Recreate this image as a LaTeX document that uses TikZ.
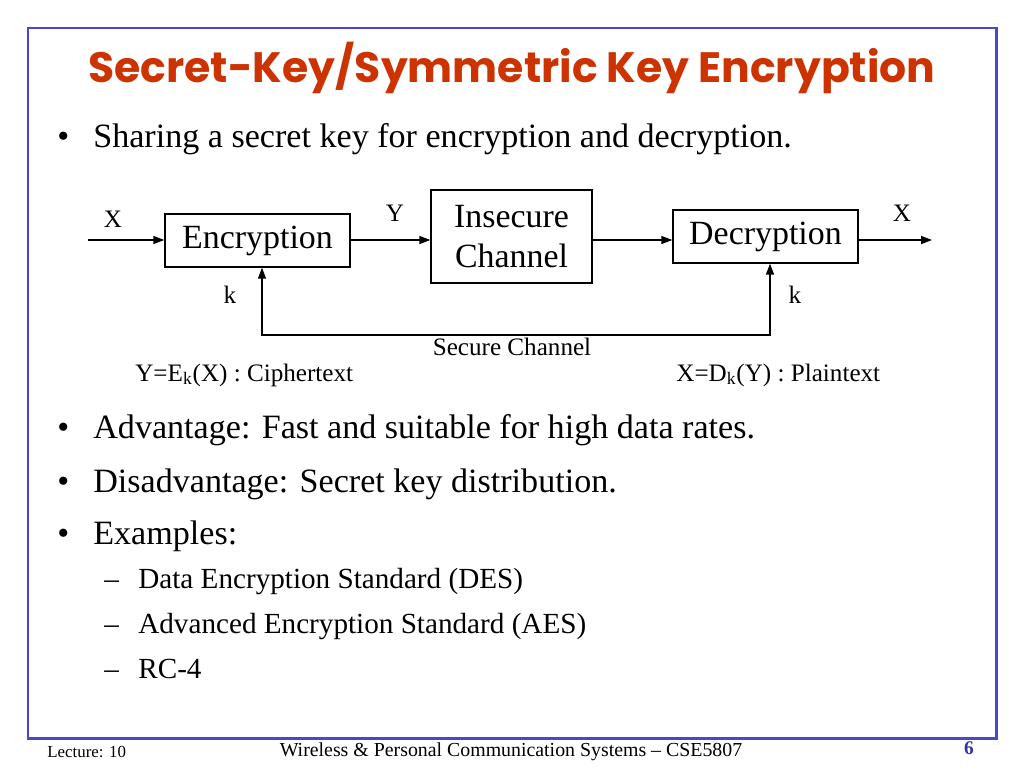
\documentclass[tikz,border=0pt]{standalone}
\usepackage{fontspec}
\setmainfont{Liberation Serif}
\newfontfamily\titlefont{Poppins}
\usepackage{tikz}
\usetikzlibrary{arrows.meta,positioning,calc}
\definecolor{slidered}{RGB}{204,51,0}
\definecolor{slideblue}{RGB}{72,72,200}
\definecolor{pagenum}{RGB}{51,51,153}
\newcommand{\fsz}[2]{\fontsize{#1}{#2}\selectfont}
\tikzset{
  frame/.style={draw=slideblue, line width=1.7pt},
  ttl/.style={font=\titlefont\bfseries\fsz{24.2}{29}, text=slidered},
  body/.style={anchor=base west, inner sep=0pt, font=\fsz{19.4}{24}},
  sub/.style={anchor=base west, inner sep=0pt, font=\fsz{16.6}{20}},
  blk/.style={draw, line width=0.75pt, inner sep=0pt, align=center, font=\fsz{19.3}{23}},
  lbl/.style={inner sep=0pt, font=\fsz{14.3}{17}},
  eqn/.style={anchor=base west, inner sep=0pt, font=\fsz{14.3}{17}},
  sig/.style={-{Triangle[length=2.2mm, width=1.6mm]}, line width=0.75pt},
  foot/.style={anchor=base, inner sep=0pt},
}

\begin{document}
\begin{tikzpicture}[x=0.02cm, y=-0.02cm]
  \useasboundingbox (0,0) rectangle (1024,768);
  \draw[frame] (28,28) rectangle (996,738);
  \node[ttl] (title) at (512,68) {Secret-Key/Symmetric Key Encryption};

  % first bullet
  \node[body] (b1) at (57,147) {\textbullet};
  \node[body] (t1) at (93,147) {Sharing a secret key for encryption and decryption.};

  % the diagram
  \node[blk, minimum width=3.7cm, minimum height=1.06cm] (enc) at (257.5,240.5) {Encryption};
  \node[blk, minimum width=3.22cm, minimum height=1.86cm] (chan) at (511.5,236.5) {Insecure\\Channel};
  \node[blk, minimum width=3.7cm, minimum height=1.06cm] (dec) at (765.5,236.5) {Decryption};
  \coordinate (src) at (88,240);
  \coordinate (dst) at (932,240);
  \coordinate (keyL) at (262,335);
  \coordinate (keyR) at (770,335);
  \draw[sig] (src) -- (src -| enc.west);
  \draw[sig] (src -| enc.east) -- (src -| chan.west);
  \draw[sig] (src -| chan.east) -- (src -| dec.west);
  \draw[sig] (src -| dec.east) -- (dst);
  \draw[sig, {Triangle[length=2.2mm, width=1.6mm]}-{Triangle[length=2.2mm, width=1.6mm]}]
    (keyL |- enc.south) -- (keyL) -- (keyR) -- (keyR |- dec.south);
  \node[lbl] (xin) at (113,219) {X};
  \node[lbl] (y) at (395,213) {Y};
  \node[lbl] (xout) at (902,213) {X};
  \node[lbl] (kL) at (230,295) {k};
  \node[lbl] (kR) at (795,295) {k};
  \node[lbl, anchor=base] (sec) at (512,355) {Secure Channel};
  \node[eqn] (ctext) at (135,381) {Y=E\textsubscript{k}(X) : Ciphertext};
  \node[eqn] (ptext) at (676,381) {X=D\textsubscript{k}(Y) : Plaintext};

  % more bullets
  \node[body] (b2) at (57,438) {\textbullet};
  \node[body] (t2) at (93,438) {Advantage: Fast and suitable for high data rates.};
  \node[body] (b3) at (57,492) {\textbullet};
  \node[body] (t3) at (93,492) {Disadvantage: Secret key distribution.};
  \node[body] (b4) at (57,544) {\textbullet};
  \node[body] (t4) at (93,544) {Examples:};
  \node[sub] (d1) at (104,588) {--};
  \node[sub] (s1) at (138,588) {Data Encryption Standard (DES)};
  \node[sub] (d2) at (104,633) {--};
  \node[sub] (s2) at (138,633) {Advanced Encryption Standard (AES)};
  \node[sub] (d3) at (104,678) {--};
  \node[sub] (s3) at (138,678) {RC-4};

  % footer
  \node[foot, anchor=base west, font=\fsz{9.6}{11}] (lec) at (47,757) {Lecture: 10};
  \node[foot, font=\fsz{11.3}{13}] (course) at (511,756) {Wireless \& Personal Communication Systems -- CSE5807};
  \node[foot, font=\bfseries\fsz{11}{13}, text=pagenum] (page) at (969,754) {6};
\end{tikzpicture}
\end{document}
